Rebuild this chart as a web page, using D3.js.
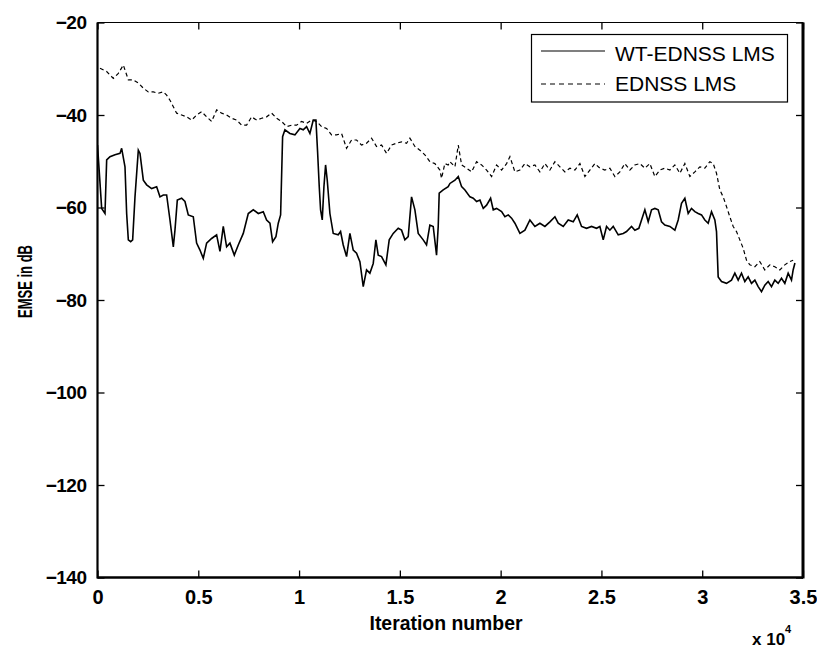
<!DOCTYPE html>
<html>
<head>
<meta charset="utf-8">
<script src="https://cdn.jsdelivr.net/npm/d3@7"></script>
<style>
  html, body { margin: 0; padding: 0; background: #fff; }
  svg { display: block; }
  text { font-family: "Liberation Sans", Arial, sans-serif; fill: #000; }
</style>
</head>
<body>
<svg id="chart" width="817" height="648"></svg>
<script>
// WT-EDNSS LMS learning curve: iteration -> EMSE (dB)
const wtIter = [0,207,372,455,620,868,1116,1198,1364,1446,1529,1645,1744,1860,2025,2108,2273,2438,2686,2934,3099,3265,3430,3595,3761,3843,3959,4174,4339,4504,4752,4917,5083,5248,5413,5661,5909,6075,6240,6405,6571,6786,6984,7232,7480,7728,7976,8224,8389,8555,8687,8852,8968,9084,9183,9298,9546,9794,10042,10207,10373,10538,10703,10836,10918,11001,11067,11150,11233,11315,11398,11530,11695,11943,12059,12191,12356,12522,12687,12852,13018,13183,13348,13513,13679,13811,13927,14092,14307,14472,14671,14919,15084,15249,15415,15580,15746,15911,16159,16324,16489,16655,16820,16903,16952,17150,17398,17485,17733,17898,18063,18229,18477,18642,18807,18973,19138,19303,19502,19634,19799,20047,20212,20378,20543,20708,20956,21204,21452,21700,21948,22196,22444,22692,22857,23105,23353,23601,23799,24014,24262,24510,24758,24923,25089,25254,25419,25585,25833,26081,26246,26494,26659,26857,26990,27155,27320,27486,27651,27816,27981,28147,28395,28643,28808,28973,29139,29304,29469,29635,29800,29965,30131,30296,30461,30627,30709,30792,30957,31205,31453,31619,31784,31949,32115,32280,32445,32611,32776,32941,33106,33272,33437,33603,33768,33933,34099,34264,34429,34511,34600];
const wtEmse = [-46.5,-60.2,-61.3,-49.7,-49.0,-48.6,-48.3,-47.2,-51.2,-61.3,-67.0,-67.4,-67.0,-57.7,-47.6,-48.3,-54.1,-55.1,-55.9,-55.5,-57.7,-57.3,-57.3,-62.7,-68.5,-64.9,-58.4,-58.0,-58.7,-61.6,-62.0,-67.7,-69.2,-71.0,-67.7,-66.7,-65.9,-69.5,-64.1,-68.5,-67.7,-70.3,-68.1,-65.6,-61.3,-60.5,-61.3,-60.9,-62.7,-63.4,-67.4,-66.3,-63.4,-61.6,-44.7,-43.2,-44.0,-44.3,-42.9,-43.2,-42.5,-44.0,-41.1,-41.1,-47.9,-55.5,-60.5,-62.7,-55.5,-50.8,-54.1,-61.3,-65.6,-65.9,-65.2,-68.1,-70.6,-65.6,-69.2,-69.9,-71.7,-77.1,-73.5,-74.2,-72.1,-67.0,-70.3,-70.6,-72.4,-67.0,-65.6,-64.5,-64.9,-67.0,-66.3,-57.7,-60.5,-65.6,-67.0,-68.1,-63.8,-64.1,-70.3,-64.1,-56.9,-56.2,-55.5,-54.8,-54.1,-53.3,-55.5,-56.2,-57.7,-58.0,-58.7,-58.4,-60.2,-59.5,-58.0,-60.5,-60.2,-60.9,-62.0,-61.6,-62.3,-63.4,-65.6,-64.9,-62.7,-64.1,-63.4,-64.1,-63.1,-62.0,-63.4,-64.1,-62.7,-63.1,-61.6,-64.1,-64.5,-64.1,-64.5,-64.1,-67.0,-64.1,-64.9,-64.1,-65.9,-65.6,-65.2,-64.1,-64.9,-64.5,-62.7,-60.5,-63.1,-60.5,-60.2,-60.5,-63.1,-63.8,-64.1,-64.9,-62.7,-59.1,-58.0,-61.3,-60.2,-60.9,-61.3,-61.6,-62.7,-63.4,-60.9,-62.7,-65.2,-75.0,-76.0,-76.4,-75.7,-74.2,-75.7,-74.2,-76.0,-75.0,-76.4,-75.7,-77.1,-78.2,-76.8,-76.0,-77.1,-75.7,-76.4,-75.3,-76.4,-74.2,-75.7,-73.5,-72.0];

// EDNSS LMS learning curve
const edIter = [124,455,785,1033,1281,1529,1777,2025,2273,2521,2769,3017,3265,3430,3596,3761,3926,4174,4422,4670,4918,5166,5414,5662,5910,6158,6406,6654,6902,7150,7398,7646,7894,8142,8390,8638,8886,9134,9382,9630,9878,10125,10373,10620,10868,11116,11364,11612,11860,12108,12356,12604,12852,13100,13348,13596,13844,14092,14340,14588,14836,15084,15332,15497,15745,15993,16241,16489,16737,16985,17068,17233,17398,17485,17733,17898,18063,18311,18559,18807,19055,19303,19551,19799,20047,20295,20460,20708,20956,21204,21452,21700,21948,22196,22444,22692,22940,23188,23436,23684,23932,24180,24428,24676,24923,25171,25419,25667,25915,26163,26411,26659,26907,27155,27403,27651,27899,28147,28395,28643,28891,29139,29387,29635,29882,30130,30378,30544,30709,30874,31040,31205,31370,31536,31701,31866,32031,32197,32362,32611,32858,33106,33354,33602,33850,34098,34346,34511];
const edEmse = [-29.9,-30.6,-32.1,-31.0,-29.2,-32.4,-32.4,-33.1,-34.2,-35.0,-35.0,-35.3,-35.0,-35.7,-36.8,-38.2,-39.6,-40.0,-40.4,-41.1,-40.0,-39.3,-40.4,-41.4,-38.9,-39.6,-40.0,-40.7,-41.1,-42.2,-42.2,-40.4,-41.1,-40.7,-40.4,-39.6,-40.7,-41.4,-42.5,-42.2,-42.2,-41.4,-41.8,-41.1,-41.4,-42.5,-42.9,-44.3,-44.3,-44.0,-47.2,-45.4,-45.4,-46.5,-46.1,-45.0,-46.8,-46.5,-48.3,-46.5,-46.1,-45.8,-46.1,-45.0,-46.8,-47.6,-48.6,-50.1,-50.5,-51.9,-53.7,-50.5,-50.8,-50.1,-51.2,-46.5,-50.8,-51.5,-52.3,-50.1,-50.8,-51.9,-53.3,-50.8,-51.9,-50.5,-49.0,-52.3,-51.9,-50.5,-51.2,-50.8,-52.3,-50.5,-51.9,-50.1,-51.2,-52.3,-51.5,-51.9,-50.5,-53.3,-51.9,-50.5,-51.5,-51.9,-51.5,-53.3,-52.3,-50.5,-51.9,-50.8,-50.5,-51.5,-50.5,-53.3,-51.9,-51.5,-51.9,-50.8,-52.6,-50.5,-53.3,-52.3,-51.2,-51.5,-50.1,-50.5,-52.6,-56.2,-57.7,-59.8,-62.0,-64.1,-65.2,-67.0,-68.8,-71.4,-72.4,-72.8,-71.7,-73.5,-72.4,-72.8,-73.5,-72.4,-71.7,-71.4];

const xTicks = [0,5000,10000,15000,20000,25000,30000,35000];
const yTicks = [-140,-120,-100,-80,-60,-40,-20];
const seriesNames = ["WT-EDNSS LMS", "EDNSS LMS"];

const svg = d3.select("#chart");
const L = 97.5, R = 803, T = 22.5, B = 577.5;

const x = d3.scaleLinear().domain([0, 35000]).range([L, R]);
const y = d3.scaleLinear().domain([-140, -20]).range([B, T]);

svg.append("defs").append("clipPath").attr("id", "plotClip")
  .append("rect").attr("x", L).attr("y", T).attr("width", R - L).attr("height", B - T);

const wtData = wtIter.map((t, i) => [t, wtEmse[i]]);
const edData = edIter.map((t, i) => [t, edEmse[i]]);
const line = d3.line().x(d => x(d[0])).y(d => y(d[1]));

const plot = svg.append("g").attr("clip-path", "url(#plotClip)");
plot.append("path").datum(edData).attr("d", line)
  .attr("fill", "none").attr("stroke", "#000").attr("stroke-width", 1.2)
  .attr("stroke-dasharray", "4,3");
plot.append("path").datum(wtData).attr("d", line)
  .attr("fill", "none").attr("stroke", "#000").attr("stroke-width", 1.6)
  .attr("stroke-linejoin", "miter");

// axes with inward ticks on all four sides
const fmtX = d => String(d / 1e4);
const axB = svg.append("g").attr("transform", `translate(0,${B})`)
  .call(d3.axisBottom(x).tickValues(xTicks).tickSize(-7).tickPadding(12).tickFormat(fmtX));
const axT = svg.append("g").attr("transform", `translate(0,${T})`)
  .call(d3.axisTop(x).tickValues(xTicks).tickSize(-7).tickFormat(""));
const axL = svg.append("g").attr("transform", `translate(${L},0)`)
  .call(d3.axisLeft(y).tickValues(yTicks).tickSize(-7).tickPadding(11).tickFormat(d3.format("d")));
const axR = svg.append("g").attr("transform", `translate(${R},0)`)
  .call(d3.axisRight(y).tickValues(yTicks).tickSize(-7).tickFormat(""));

[axB, axT, axL, axR].forEach(a => {
  a.select(".domain").remove();
  a.selectAll(".tick line").attr("stroke", "#000").attr("stroke-width", 1.3);
});
axB.selectAll("text").attr("font-size", 20).attr("font-weight", "bold")
  .attr("font-family", "Liberation Sans, Arial, sans-serif").attr("fill", "#000")
  .attr("dy", "0.71em");
axL.selectAll("text").attr("font-size", 19).attr("font-weight", "bold")
  .attr("font-family", "Liberation Sans, Arial, sans-serif").attr("fill", "#000")
  .attr("letter-spacing", -0.5);

// frame
const frame = svg.append("g").attr("stroke", "#000");
frame.append("line").attr("x1", L).attr("x2", R).attr("y1", T).attr("y2", T).attr("stroke-width", 1.2);
frame.append("line").attr("x1", L).attr("x2", R).attr("y1", B).attr("y2", B).attr("stroke-width", 2.6);
frame.append("line").attr("x1", L).attr("x2", L).attr("y1", T).attr("y2", B + 1).attr("stroke-width", 2.2);
frame.append("line").attr("x1", R).attr("x2", R).attr("y1", T).attr("y2", B + 1).attr("stroke-width", 3);

// axis titles
svg.append("text").attr("x", 446).attr("y", 630).attr("text-anchor", "middle")
  .attr("font-size", 20).attr("font-weight", "bold")
  .attr("textLength", 153).attr("lengthAdjust", "spacingAndGlyphs")
  .text("Iteration number");
const mult = svg.append("text").attr("x", 752).attr("y", 645)
  .attr("font-size", 17).attr("font-weight", "bold");
mult.append("tspan").text("x 10");
mult.append("tspan").attr("font-size", 11).attr("dy", -12).text("4");

svg.append("text").attr("transform", "translate(31.5,281.5) rotate(-90)")
  .attr("text-anchor", "middle").attr("font-size", 20).attr("font-weight", "bold")
  .attr("textLength", 73).attr("lengthAdjust", "spacingAndGlyphs")
  .text("EMSE in dB");

// legend
const lg = svg.append("g");
lg.append("rect").attr("x", 531.5).attr("y", 34.5).attr("width", 256).attr("height", 67.5)
  .attr("fill", "#fff").attr("stroke", "#000").attr("stroke-width", 1.2);
const rows = [
  { name: seriesNames[0], dash: null, yLine: 51, yText: 61 },
  { name: seriesNames[1], dash: "5,4", yLine: 84, yText: 91 }
];
rows.forEach(r => {
  lg.append("line").attr("x1", 541).attr("x2", 605).attr("y1", r.yLine).attr("y2", r.yLine)
    .attr("stroke", "#000").attr("stroke-width", 1.1)
    .attr("stroke-dasharray", r.dash);
  lg.append("text").attr("x", 615).attr("y", r.yText).attr("font-size", 21)
    .text(r.name);
});
</script>
</body>
</html>
